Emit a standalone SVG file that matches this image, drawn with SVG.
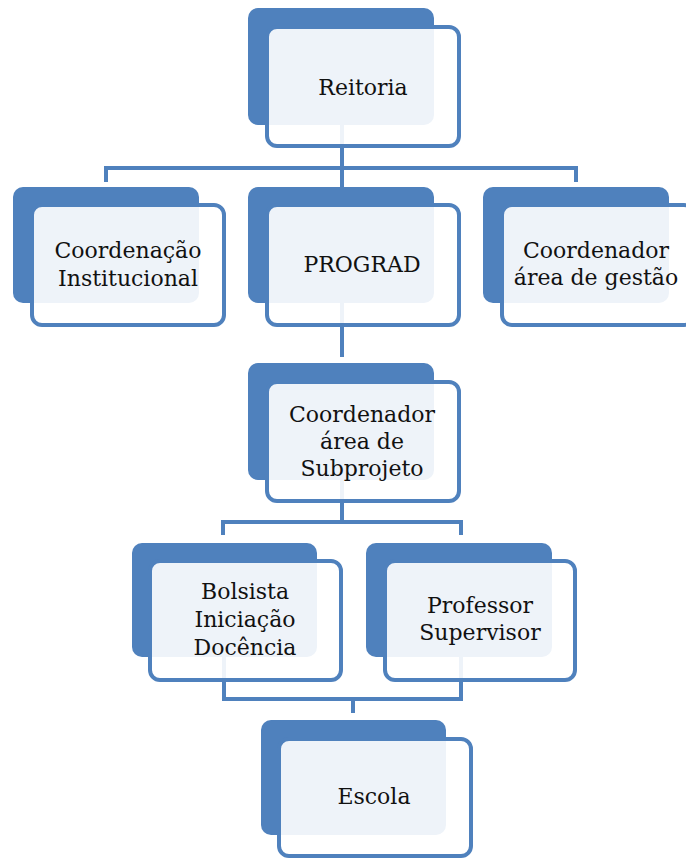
<svg xmlns="http://www.w3.org/2000/svg" width="686" height="860" viewBox="0 0 686 860">
<style>
.back{fill:#4f81bd}
.front{fill:#ffffff;fill-opacity:0.9;stroke:#4f81bd;stroke-width:4}
.conn{fill:none;stroke:#4f81bd;stroke-width:4;stroke-linejoin:miter}
.lbl{font-family:"DejaVu Serif","Liberation Serif",serif;font-size:22px;fill:#111;text-anchor:middle}
</style>
<rect width="686" height="860" fill="#ffffff"/>
<g id="connectors">
<path class="conn" d="M342 66V168M106 182V168H576V182M342 168V187"/>
<path class="conn" d="M342 300V357"/>
<path class="conn" d="M342 460V522M223 535V522H461V535"/>
<path class="conn" d="M224 640V699H461V640M353 699V713"/>
</g>
<g id="reitoria">
<rect class="back" x="248" y="8" width="186" height="117" rx="10"/>
<rect class="front" x="267" y="27" width="192" height="119" rx="10"/>
<text class="lbl" x="363" y="95">Reitoria</text>
</g>
<g id="coordenacao-institucional">
<rect class="back" x="13" y="187" width="186" height="116" rx="10"/>
<rect class="front" x="32" y="205" width="192" height="120" rx="10"/>
<text class="lbl" x="128" y="258">Coordenação</text>
<text class="lbl" x="128" y="286">Institucional</text>
</g>
<g id="prograd">
<rect class="back" x="248" y="187" width="186" height="116" rx="10"/>
<rect class="front" x="267" y="205" width="192" height="120" rx="10"/>
<text class="lbl" x="362" y="272">PROGRAD</text>
</g>
<g id="coordenador-gestao">
<rect class="back" x="483" y="187" width="186" height="116" rx="10"/>
<rect class="front" x="502" y="205" width="192" height="120" rx="10"/>
<text class="lbl" x="596" y="258">Coordenador</text>
<text class="lbl" x="596" y="285">área de gestão</text>
</g>
<g id="coordenador-subprojeto">
<rect class="back" x="248" y="363" width="186" height="117" rx="10"/>
<rect class="front" x="267" y="382" width="192" height="119" rx="10"/>
<text class="lbl" x="362" y="422">Coordenador</text>
<text class="lbl" x="362" y="449">área de</text>
<text class="lbl" x="362" y="476">Subprojeto</text>
</g>
<g id="bolsista">
<rect class="back" x="132" y="543" width="185" height="114" rx="10"/>
<rect class="front" x="150" y="561" width="191" height="119" rx="10"/>
<text class="lbl" x="245" y="599">Bolsista</text>
<text class="lbl" x="245" y="627">Iniciação</text>
<text class="lbl" x="245" y="655">Docência</text>
</g>
<g id="professor">
<rect class="back" x="366" y="543" width="186" height="114" rx="10"/>
<rect class="front" x="385" y="561" width="190" height="119" rx="10"/>
<text class="lbl" x="480" y="613">Professor</text>
<text class="lbl" x="480" y="640">Supervisor</text>
</g>
<g id="escola">
<rect class="back" x="261" y="720" width="185" height="115" rx="10"/>
<rect class="front" x="279" y="739" width="192" height="117" rx="10"/>
<text class="lbl" x="374" y="804">Escola</text>
</g>
</svg>
